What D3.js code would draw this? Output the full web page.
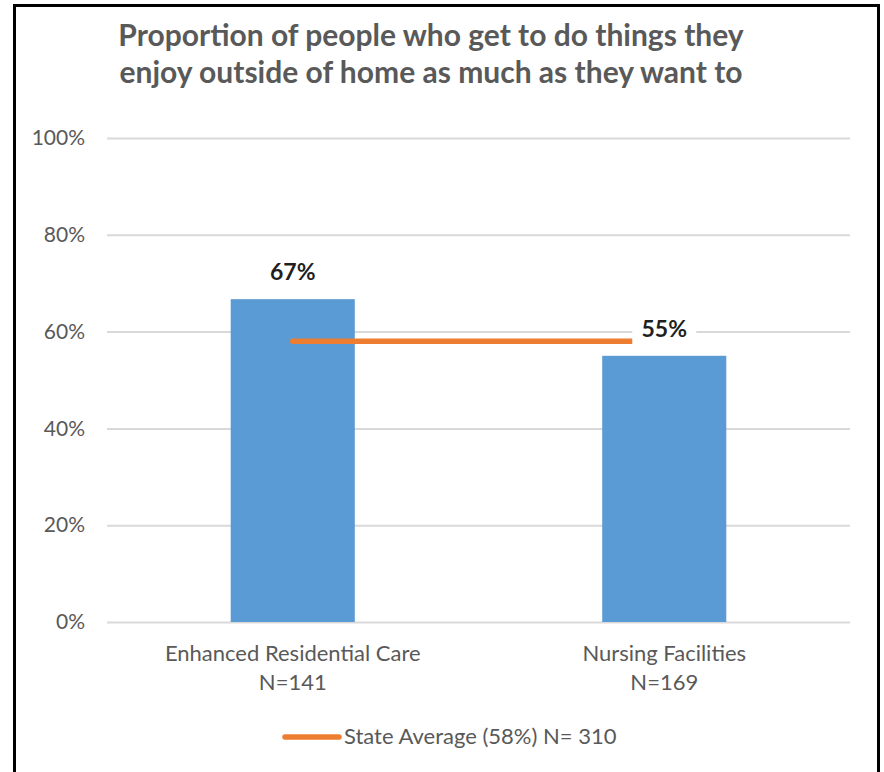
<!DOCTYPE html>
<html>
<head>
<meta charset="utf-8">
<script src="https://cdn.jsdelivr.net/npm/d3@7"></script>
<style>
    body { margin: 0; background: #fff; }
    text { font-family: Lato, "Noto Sans", sans-serif; }
</style>
</head>
<body>
<div id="chart"></div>
<script>
var categories = ["Enhanced Residential Care", "Nursing Facilities"];
var sampleSizes = ["N=141", "N=169"];
var values = [0.667, 0.55];
var stateAverage = 0.58;
var legendLabel = "State Average (58%) N= 310";
var yTicks = [0, 0.2, 0.4, 0.6, 0.8, 1];
var titleLines = ["Proportion of people who get to do things they",
    "enjoy outside of home as much as they want to"];

var width = 884, height = 772;
var margin = {top: 138, right: 34, bottom: 150, left: 107};

var svg = d3.select("#chart").append("svg")
    .attr("width", width)
    .attr("height", height);

// frame
svg.append("rect")
    .attr("x", 14.5).attr("y", 5.5)
    .attr("width", 864).attr("height", 820)
    .attr("fill", "#fff")
    .attr("stroke", "#000")
    .attr("stroke-width", 3);

var x = d3.scaleBand()
    .domain(categories)
    .range([margin.left, width - margin.right])
    .paddingInner(0.666)
    .paddingOuter(0.333);

var y = d3.scaleLinear()
    .domain([0, 1])
    .range([height - margin.bottom, margin.top]);

// title
svg.append("g").selectAll("text")
    .data(titleLines)
    .join("text")
    .attr("x", 431)
    .attr("y", function(d, i){ return 46 + i * 37; })
    .attr("text-anchor", "middle")
    .attr("font-size", 30)
    .attr("font-weight", "bold")
    .attr("fill", "#595959")
    .text(function(d){ return d; });

// gridlines + y labels
var yAxis = d3.axisLeft(y)
    .tickValues(yTicks)
    .tickFormat(d3.format(".0%"))
    .tickSize(-(width - margin.left - margin.right))
    .tickPadding(22);

var gy = svg.append("g")
    .attr("transform", "translate(" + margin.left + ",0)")
    .call(yAxis);
gy.select(".domain").remove();
gy.selectAll(".tick line").attr("stroke", "#d9d9d9").attr("stroke-width", 2);
gy.selectAll(".tick text")
    .attr("fill", "#595959")
    .attr("font-size", 21)
    .style("font-family", "Lato, 'Noto Sans', sans-serif");

// bars
svg.append("g").selectAll("rect")
    .data(values)
    .join("rect")
    .attr("x", function(d, i){ return x(categories[i]); })
    .attr("y", function(d){ return y(d); })
    .attr("width", x.bandwidth())
    .attr("height", function(d){ return y(0) - y(d); })
    .attr("fill", "#5b9bd5");

// state average line (bar centre to bar centre)
svg.append("line")
    .attr("x1", x(categories[0]) + x.bandwidth() / 2)
    .attr("x2", x(categories[1]) + x.bandwidth() / 2)
    .attr("y1", y(stateAverage))
    .attr("y2", y(stateAverage))
    .attr("stroke", "#ed7d31")
    .attr("stroke-width", 5.5)
    .attr("stroke-linecap", "round");

// value labels with white boxes
var lbl = svg.append("g").selectAll("g")
    .data(values)
    .join("g")
    .attr("transform", function(d, i){
        return "translate(" + (x(categories[i]) + x.bandwidth() / 2) + "," + (y(d) - 19) + ")";
    });
lbl.append("rect")
    .attr("x", -32).attr("y", -24)
    .attr("width", 64).attr("height", 33)
    .attr("fill", "#fff");
lbl.append("text")
    .attr("text-anchor", "middle")
    .attr("font-size", 23)
    .attr("font-weight", "bold")
    .attr("fill", "#1f1f1f")
    .text(function(d){ return Math.round(d * 100) + "%"; });

// category labels
var cat = svg.append("g").selectAll("text")
    .data(categories)
    .join("text")
    .attr("text-anchor", "middle")
    .attr("font-size", 22)
    .attr("fill", "#595959");
cat.append("tspan")
    .attr("x", function(d){ return x(d) + x.bandwidth() / 2; })
    .attr("y", 661)
    .text(function(d){ return d; });
cat.append("tspan")
    .attr("x", function(d){ return x(d) + x.bandwidth() / 2; })
    .attr("y", 690)
    .text(function(d, i){ return sampleSizes[i]; });

// legend
var leg = svg.append("g").attr("transform", "translate(285,737)");
leg.append("line")
    .attr("x1", 0).attr("x2", 54)
    .attr("stroke", "#ed7d31")
    .attr("stroke-width", 5.5)
    .attr("stroke-linecap", "round");
leg.append("text")
    .attr("x", 59).attr("y", 7)
    .attr("font-size", 22)
    .attr("fill", "#595959")
    .text(legendLabel);
</script>
</body>
</html>
